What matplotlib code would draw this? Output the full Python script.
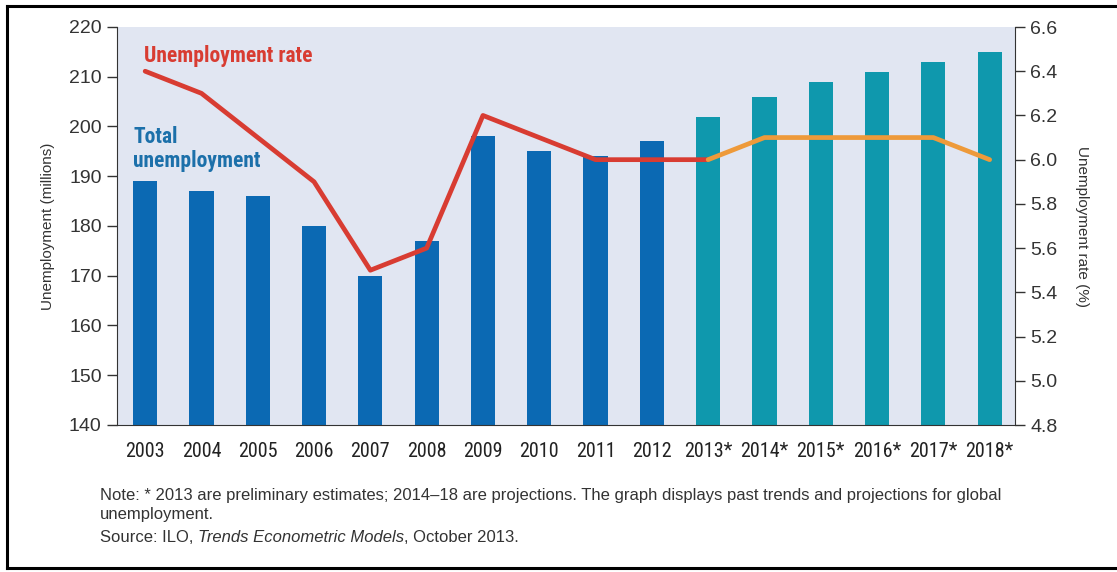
import matplotlib
matplotlib.use("Agg")
import matplotlib.pyplot as plt
from matplotlib.lines import Line2D
from matplotlib import font_manager as fm

years = ["2003", "2004", "2005", "2006", "2007", "2008", "2009", "2010",
         "2011", "2012", "2013*", "2014*", "2015*", "2016*", "2017*", "2018*"]
unemployment = [189, 187, 186, 180, 170, 177, 198, 195, 194, 197,
                202, 206, 209, 211, 213, 215]
rate_past = [6.4, 6.3, 6.1, 5.9, 5.5, 5.6, 6.2, 6.1, 6.0, 6.0, 6.0]
rate_proj = [6.0, 6.1, 6.1, 6.1, 6.1, 6.0]
n_past_bars = 10


def _w(f):
    w = f.weight
    if isinstance(w, str):
        w = {"normal": 400, "regular": 400, "book": 400, "bold": 700}.get(w.lower(), 400)
    return w


cands = []
for f in fm.fontManager.ttflist:
    st = str(f.stretch).lower()
    if ("condensed" in st or "narrow" in f.name.lower() or "condensed" in f.name.lower()
            or "condensed" in f.fname.lower()) and f.style == "normal":
        cands.append(f)


def pick(weight):
    best = None
    for pref in ["Roboto", "Open Sans", "Noto Sans", "Liberation", "DejaVu Sans", ""]:
        for f in cands:
            if pref in f.name and "Mono" not in f.name and "Serif" not in f.name:
                if best is None or abs(_w(f) - weight) < abs(_w(best) - weight):
                    best = f
        if best is not None:
            return fm.FontProperties(fname=best.fname)
    return None


fp_cond = pick(400)
fp_cond_b = pick(700)
USE_COND = fp_cond is not None


def cond_props(size, bold=False):
    if USE_COND:
        fp = (fp_cond_b if bold else fp_cond).copy()
        fp.set_size(size)
        return fp
    return fm.FontProperties(family="Roboto", weight="bold" if bold else "normal",
                             size=size * 0.86)


C_PAST = "#0B69B3"
C_PROJ = "#0F98AD"
C_RED = "#D83C32"
C_ORANGE = "#EE9A3A"
C_BG = "#E1E6F2"
C_AX = "#333333"

fig = plt.figure(figsize=(11.17, 5.72), dpi=100)
ax = fig.add_axes([117/1117, 1-425/572, (1015-117)/1117, (425-27)/572])
ax.set_facecolor(C_BG)

x = list(range(len(years)))
colors = [C_PAST if i < n_past_bars else C_PROJ for i in x]
ax.bar(x, unemployment, width=0.43, color=colors, zorder=2)
ax.set_ylim(140, 220)
ax.set_xlim(-0.5, 15.45)
ax.set_yticks(range(140, 221, 10))
ax.set_xticks(x)
ax.set_xticklabels(years, fontproperties=cond_props(14.5), color="#222222")
ax.tick_params(axis="x", length=0, pad=12)
ax.tick_params(axis="y", length=7, width=1, color=C_AX, labelsize=14,
               labelcolor="#333333", pad=4)
for lab in ax.get_yticklabels():
    lab.set_fontfamily("Liberation Sans")
ax.spines["top"].set_visible(False)
ax.spines["right"].set_visible(False)
ax.spines["left"].set_color(C_AX)
ax.spines["bottom"].set_color(C_AX)
ax.set_ylabel("Unemployment (millions)", fontsize=11, color="#333333",
              fontfamily="Liberation Sans", labelpad=10)

ax2 = ax.twinx()
ax2.set_ylim(4.8, 6.6)
ax2.set_yticks([4.8 + 0.2*i for i in range(10)])
ax2.set_yticklabels([f"{4.8 + 0.2*i:.1f}" for i in range(10)],
                    fontfamily="Liberation Sans")
ax2.tick_params(axis="y", length=7, width=1, color=C_AX, labelsize=14,
                labelcolor="#333333", pad=4)
for s in ["top", "left", "bottom"]:
    ax2.spines[s].set_visible(False)
ax2.spines["right"].set_color(C_AX)
ax2.set_ylabel("Unemployment rate (%)", fontsize=11, color="#333333",
               fontfamily="Liberation Sans", rotation=-90, labelpad=23)

ax2.plot(x[:len(rate_past)], rate_past, color=C_RED, lw=3.4,
         solid_joinstyle="round", solid_capstyle="round", zorder=3)
ax2.plot(x[len(rate_past)-1:], rate_proj, color=C_ORANGE, lw=3.4,
         solid_joinstyle="round", solid_capstyle="round", zorder=3)

ax.text(0.03, 0.927, "Unemployment rate", transform=ax.transAxes,
        color=C_RED, fontproperties=cond_props(15.5, True), va="center", ha="left")
ax.text(0.018, 0.693, "Total\nunemployment", transform=ax.transAxes,
        color="#1C70AA", fontproperties=cond_props(15.5, True),
        va="center", ha="left", linespacing=1.15)

FS = 12.0
X0 = 100/1117
fig.text(X0, 1-505/572,
         "Note: * 2013 are preliminary estimates; 2014\u201318 are projections. "
         "The graph displays past trends and projections for global\nunemployment.",
         fontsize=FS, color="#333333", fontfamily="Liberation Sans",
         va="center", ha="left", linespacing=1.4)
t = fig.text(X0, 1-538/572, "Source: ILO, ", fontsize=FS, color="#333333",
             fontfamily="Liberation Sans", va="center", ha="left")
fig.canvas.draw()
bb = t.get_window_extent()
t2 = fig.text(bb.x1/1117, 1-538/572, "Trends Econometric Models", fontsize=FS,
              color="#333333", fontfamily="Liberation Sans", style="italic",
              va="center", ha="left")
fig.canvas.draw()
bb2 = t2.get_window_extent()
fig.text(bb2.x1/1117, 1-538/572, ", October 2013.", fontsize=FS, color="#333333",
         fontfamily="Liberation Sans", va="center", ha="left")

# outer frame
fig.add_artist(Line2D([7/1117, 1.0], [1-6/572, 1-6/572], color="black", lw=2.2,
                      transform=fig.transFigure))
fig.add_artist(Line2D([7/1117, 7/1117], [1-6/572, 1-568/572], color="black", lw=2.2,
                      transform=fig.transFigure))
fig.add_artist(Line2D([7/1117, 1.0], [1-568/572, 1-568/572], color="black", lw=2.2,
                      transform=fig.transFigure))

fig.savefig("out.png", dpi=100)
